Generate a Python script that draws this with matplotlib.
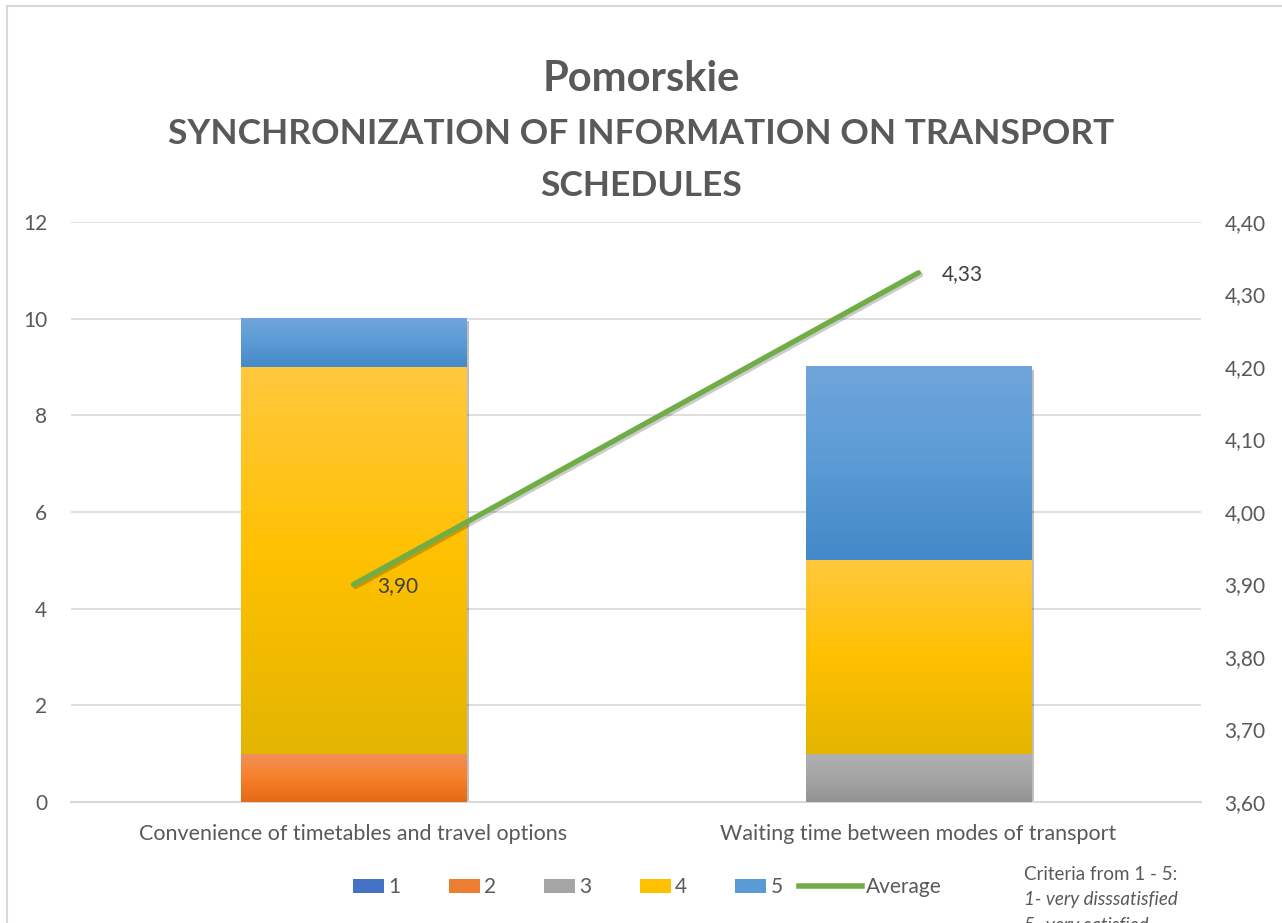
import numpy as np
import matplotlib.pyplot as plt
import matplotlib.patheffects as pe
from matplotlib.patches import Patch, Rectangle
from matplotlib.lines import Line2D
from matplotlib.legend_handler import HandlerPatch
from matplotlib.colors import LinearSegmentedColormap

plt.rcParams['font.family'] = ['Lato', 'DejaVu Sans']

# data
categories = ["Convenience of timetables and travel options",
              "Waiting time between modes of transport"]
levels = ["1", "2", "3", "4", "5"]
counts = {
    "1": [0, 0],
    "2": [1, 0],
    "3": [0, 1],
    "4": [8, 4],
    "5": [1, 4],
}
average = [3.90, 4.33]
avg_labels = ["3,90", "4,33"]
left_ticks = [0, 2, 4, 6, 8, 10, 12]
right_ticks = [3.60, 3.70, 3.80, 3.90, 4.00, 4.10, 4.20, 4.30, 4.40]

# colours: (top, middle, bottom) of each segment's gradient
grads = {
    "1": ("#5b87cf", "#4472c4", "#3a64b0"),
    "2": ("#f1905a", "#f7802a", "#e56a17"),
    "3": ("#b0b0b0", "#a5a5a5", "#939393"),
    "4": ("#ffc83d", "#ffc000", "#e3b500"),
    "5": ("#70a5db", "#5b9bd5", "#4389c8"),
}
solid = {"1": "#4472c4", "2": "#ed7d31", "3": "#a5a5a5", "4": "#ffc000", "5": "#5b9bd5"}
txt = "#595959"
grid_c = "#d9d9d9"

W, H = 1282, 923
fig = plt.figure(figsize=(W / 100, H / 100), dpi=100)
ax = fig.add_axes([71 / W, 1 - 802 / H, 1130 / W, 580 / H])

x = np.arange(len(categories))
bottom = np.zeros(len(categories))
shadow = [pe.SimplePatchShadow(offset=(2, -2), alpha=0.25, shadow_rgbFace="#000000"), pe.Normal()]
for lv in levels:
    vals = np.array(counts[lv], dtype=float)
    bars = ax.bar(x, vals, width=0.4, bottom=bottom, color=solid[lv], zorder=2)
    cmap = LinearSegmentedColormap.from_list("g" + lv, list(grads[lv][::-1]))
    for b in bars:
        if b.get_height() <= 0:
            continue
        b.set_path_effects(shadow)
        grad = np.linspace(0, 1, 100).reshape(-1, 1)
        ax.imshow(grad, cmap=cmap, origin="lower", aspect="auto", zorder=3,
                  extent=(b.get_x(), b.get_x() + b.get_width(),
                          b.get_y(), b.get_y() + b.get_height()))
    bottom += vals

ax.set_xlim(-0.5, 1.5)
ax.set_ylim(0, 12)
ax.set_yticks(left_ticks)
ax.set_xticks(x)
ax.set_xticklabels(categories)
ax.yaxis.grid(True, color=grid_c, lw=1.2, zorder=0)
ax.set_axisbelow(True)
for s in ["top", "right", "left"]:
    ax.spines[s].set_visible(False)
ax.spines["bottom"].set_color(grid_c)
ax.spines["bottom"].set_linewidth(1.5)
ax.tick_params(axis="both", length=0, colors=txt)
ax.tick_params(axis="x", pad=16, labelsize=15.5)
ax.tick_params(axis="y", pad=17, labelsize=15)

ax2 = ax.twinx()
ax2.plot(x, average, color="#70ad47", lw=3.8, solid_capstyle="round", zorder=5,
         path_effects=[pe.SimpleLineShadow(offset=(1.5, -1.5), alpha=0.2), pe.Normal()])
ax2.set_ylim(3.6, 4.4)
ax2.set_yticks(right_ticks)
ax2.set_yticklabels([f"{t:.2f}".replace(".", ",") for t in right_ticks])
for s in ax2.spines.values():
    s.set_visible(False)
ax2.tick_params(axis="y", length=0, labelsize=15, colors=txt, pad=17)
for xi, yi, lab in zip(x, average, avg_labels):
    ax2.annotate(lab, (xi, yi), xytext=(17, -1), textcoords="offset points",
                 fontsize=15, color="#404040", va="center", ha="left")

# titles
fig.text(0.5, 1 - 79 / H, "Pomorskie", ha="center", va="center",
         fontsize=30, fontweight="bold", color=txt)
fig.text(0.5, 1 - 134 / H, "SYNCHRONIZATION OF INFORMATION ON TRANSPORT",
         ha="center", va="center", fontsize=25.5, fontweight="bold", color=txt)
fig.text(0.5, 1 - 186 / H, "SCHEDULES", ha="center", va="center",
         fontsize=25.5, fontweight="bold", color=txt)


# legend: patch keys are short, the line key is long
def short_rect(legend, orig_handle, xdescent, ydescent, width, height, fontsize):
    return Rectangle((-xdescent + width * 0.5, -ydescent), width * 0.5, height)


handles = [Patch(facecolor=solid[lv], label=lv) for lv in levels]
handles.append(Line2D([], [], color="#70ad47", lw=4, label="Average"))
fig.legend(handles=handles, loc="center left", bbox_to_anchor=(322 / W, 1 - 887 / H),
           ncol=6, frameon=False, fontsize=15, labelcolor=txt,
           borderpad=0, borderaxespad=0,
           handlelength=3.0, handleheight=0.65, handletextpad=0.2, columnspacing=0.8,
           handler_map={Patch: HandlerPatch(patch_func=short_rect)})

fig.text(1024 / W, 1 - 874 / H, "Criteria from 1 - 5:", fontsize=13.5,
         color=txt, va="center", ha="left")
fig.text(1024 / W, 1 - 900 / H, "1- very disssatisfied", fontsize=13.5,
         color=txt, va="center", ha="left", style="italic")
fig.text(1024 / W, 1 - 926 / H, "5- very satisfied", fontsize=13.5,
         color=txt, va="center", ha="left", style="italic")

# chart area border
fig.patches.append(Rectangle((7 / W, -0.1), 1.2, 1 - 6 / H + 0.1,
                             transform=fig.transFigure, fill=False,
                             edgecolor=grid_c, lw=1.5))

fig.savefig("out.png", dpi=100)
